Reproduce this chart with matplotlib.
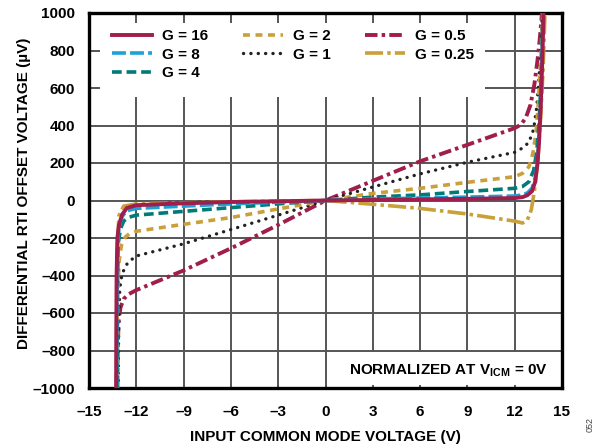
import matplotlib
matplotlib.use("Agg")
import matplotlib.pyplot as plt
from matplotlib.patches import Rectangle

plt.rcParams['font.family'] = ['Liberation Sans', 'DejaVu Sans']
plt.rcParams['font.weight'] = 'bold'
plt.rcParams['mathtext.fontset'] = 'custom'
plt.rcParams['mathtext.bf'] = 'Liberation Sans:bold'
plt.rcParams['mathtext.rm'] = 'Liberation Sans:bold'
plt.rcParams['lines.scale_dashes'] = False

# ---- data ----
x_g16 = [-13.28, -13.27, -13.25, -13.2, -13.1, -12.9, -12.6, -12, -9, -6, -3, 0, 3, 6, 9, 12, 12.5, 12.8, 13.1, 13.3, 13.45, 13.55, 13.65, 13.75, 13.83]
y_g16 = [-1000, -700, -400, -200, -130, -75, -40, -25, -15, -8, -4, 0, 3, 6, 9, 13, 18, 28, 50, 100, 200, 320, 500, 750, 1000]

x_g8 = [-13.25, -13.23, -13.2, -13.1, -12.9, -12.6, -12, -9, -6, -3, 0, 3, 6, 9, 12, 12.5, 12.8, 13.1, 13.3, 13.45, 13.58, 13.7, 13.8]
y_g8 = [-1000, -600, -250, -140, -85, -55, -42, -30, -18, -9, 0, 8, 13, 18, 24, 30, 40, 65, 120, 220, 400, 650, 1000]

x_g4 = [-13.22, -13.2, -13.15, -13.0, -12.8, -12.5, -12, -9, -6, -3, 0, 3, 6, 9, 12, 12.5, 12.9, 13.2, 13.4, 13.55, 13.68, 13.8]
y_g4 = [-1000, -500, -230, -150, -110, -90, -78, -58, -38, -18, 0, 18, 30, 48, 65, 75, 100, 160, 260, 420, 650, 1000]

x_g2 = [-13.2, -13.18, -13.1, -12.95, -12.7, -12.4, -12, -9, -6, -3, 0, 3, 6, 9, 12, 12.5, 12.9, 13.15, 13.35, 13.5, 13.65, 13.78]
y_g2 = [-1000, -500, -330, -240, -195, -175, -164, -127, -91, -45, 0, 38, 65, 97, 127, 145, 180, 250, 360, 520, 750, 1000]

x_g1 = [-13.15, -13.12, -13.05, -12.9, -12.6, -12.3, -12, -9, -6, -3, 0, 3, 6, 9, 12, 12.5, 12.9, 13.2, 13.4, 13.55, 13.68, 13.75]
y_g1 = [-1000, -700, -470, -390, -340, -315, -296, -231, -155, -78, 0, 72, 142, 204, 257, 280, 310, 380, 500, 660, 850, 1000]

x_g05 = [-13.2, -13.18, -13.12, -13.0, -12.8, -12.5, -12, -9, -6, -3, 0, 3, 6, 9, 12, 12.4, 12.7, 13.0, 13.25, 13.45, 13.6, 13.73]
y_g05 = [-1000, -800, -640, -570, -525, -500, -478, -373, -255, -130, 0, 105, 209, 297, 386, 405, 440, 510, 620, 750, 870, 1000]

x_g025 = [-13.25, -13.23, -13.2, -13.1, -12.8, -12, -9, -6, -3, 0, 3, 6, 9, 12, 12.5, 12.8, 13.05, 13.25, 13.45, 13.65, 13.8, 13.92]
y_g025 = [-1000, -600, -250, -80, -30, -18, -12, -7, -3, 0, -20, -42, -72, -110, -120, -105, -50, 50, 200, 450, 700, 1000]

labels = ["G = 16", "G = 8", "G = 4", "G = 2", "G = 1", "G = 0.5", "G = 0.25"]
xticks = [-15, -12, -9, -6, -3, 0, 3, 6, 9, 12, 15]
yticks = [-1000, -800, -600, -400, -200, 0, 200, 400, 600, 800, 1000]

crimson = '#A01D4C'
blue = '#1CA2D8'
teal = '#007B78'
gold = '#C9A03A'
black = '#222222'

fig = plt.figure(figsize=(5.97, 4.47), dpi=100)
ax = fig.add_axes([89/597, 1-388/447, 473/597, 375/447])
ax.set_axisbelow(True)

series = [
    (x_g16, y_g16, dict(color=crimson, lw=2.8, ls='-', zorder=9)),
    (x_g8, y_g8, dict(color=blue, lw=2.6, ls=(0, (10, 3)), zorder=8)),
    (x_g4, y_g4, dict(color=teal, lw=2.6, ls=(0, (7, 3.5)), zorder=7)),
    (x_g2, y_g2, dict(color=gold, lw=2.6, ls=(0, (5, 4)), zorder=6)),
    (x_g1, y_g1, dict(color=black, lw=2.4, ls=(0, (0.1, 5.2)), dash_capstyle='round', zorder=5)),
    (x_g05, y_g05, dict(color=crimson, lw=2.8, ls=(0, (9, 3, 2.5, 3)), zorder=4)),
    (x_g025, y_g025, dict(color=gold, lw=2.6, ls=(0, (13, 3, 2.5, 3)), zorder=3)),
]
for (xs, ys, kw), lab in zip(series, labels):
    ax.plot(xs, ys, label=lab, **kw)

ax.set_xlim(-15, 15)
ax.set_ylim(-1000, 1000)
ax.set_xticks(xticks)
ax.set_yticks(yticks)
ax.set_xticklabels([str(t).replace('-', '\u2013') for t in xticks])
ax.set_yticklabels([str(t).replace('-', '\u2013') for t in yticks])
ax.tick_params(length=0, labelsize=11, pad=0)
ax.tick_params(axis='x', pad=12)
ax.tick_params(axis='y', pad=10)
ax.grid(True, color='#555555', lw=1.4)
for s in ax.spines.values():
    s.set_linewidth(2.4)
    s.set_color('black')

# white boxes hiding grid behind legend and note
ax.add_patch(Rectangle(((100-89)/473, (388-97)/375), (485-100)/473, (97-23)/375,
                       transform=ax.transAxes, facecolor='white', edgecolor='none', zorder=1))
ax.add_patch(Rectangle(((330-89)/473, 3/375), (561-330)/473, (385-352)/375,
                       transform=ax.transAxes, facecolor='white', edgecolor='none', zorder=1))

leg = ax.legend(loc='upper left', bbox_to_anchor=((112-89)/473, (388-29)/375), ncol=3,
                frameon=False, fontsize=11, borderpad=0, borderaxespad=0,
                handlelength=2.6, handletextpad=0.65, columnspacing=2.3, labelspacing=0.3)
leg.set_zorder(10)

ax.text(0.759, 0.045, r"NORMALIZED AT V$_{\mathbf{ICM}}$ = 0V", transform=ax.transAxes,
        ha='center', va='center', fontsize=11, fontweight='bold', zorder=10)

ax.set_xlabel("INPUT COMMON MODE VOLTAGE (V)", fontsize=11, fontweight='bold')
ax.set_ylabel("DIFFERENTIAL RTI OFFSET VOLTAGE (\u00b5V)", fontsize=11, fontweight='bold')
ax.xaxis.set_label_coords(0.5, (388-430)/375)
ax.yaxis.set_label_coords((31-89)/473, 0.519)

fig.text(590/597, 1-425/447, "052", rotation=90, fontsize=6.5, fontweight='normal',
         color='#444444', ha='center', va='center')

fig.savefig("out.png", dpi=100)
